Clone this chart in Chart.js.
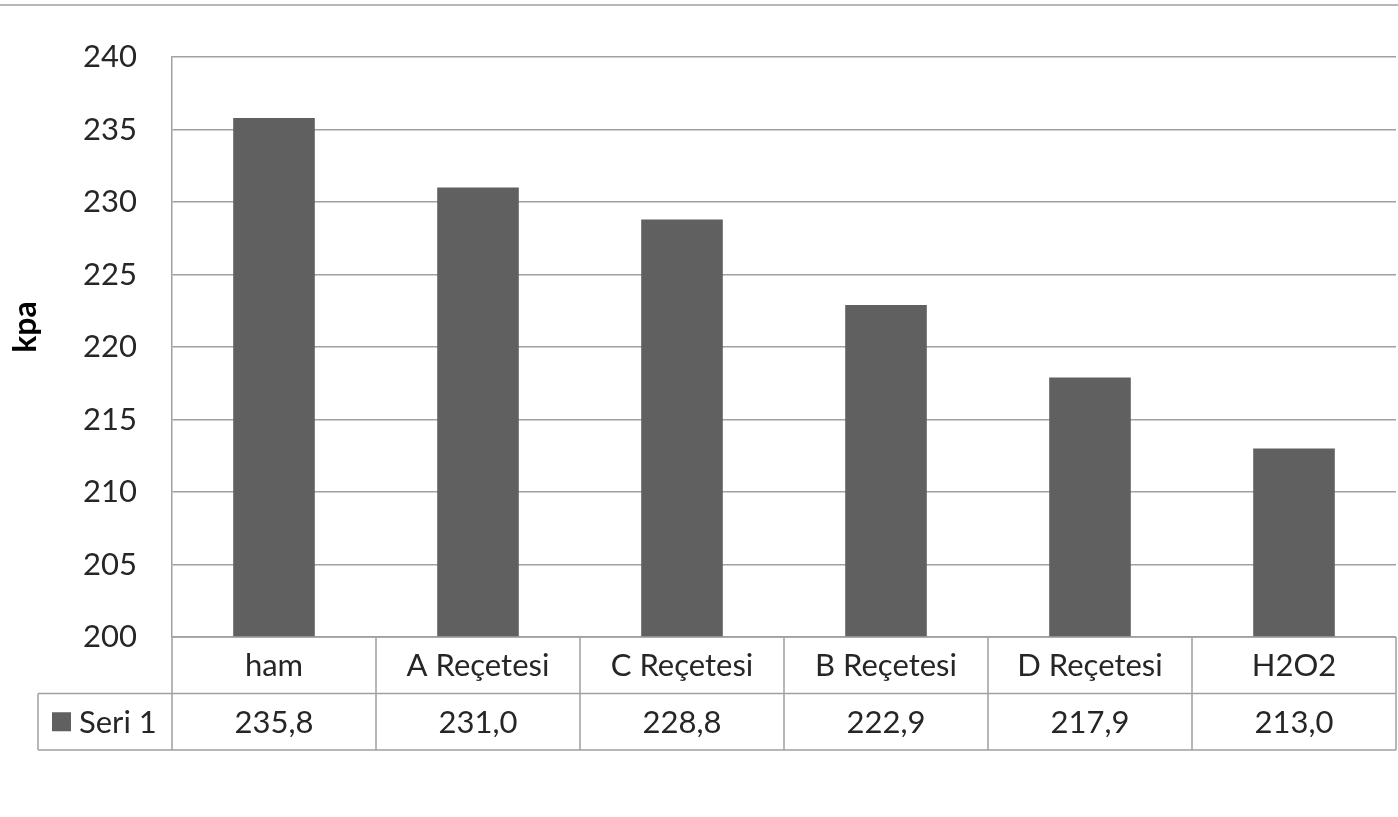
<!DOCTYPE html>
<html>
<head>
<meta charset="utf-8">
<script src="https://cdn.jsdelivr.net/npm/chart.js@4/dist/chart.umd.min.js"></script>
<style>
  html, body { margin: 0; padding: 0; background: #ffffff; }
  #wrap { width: 1398px; height: 817px; }
</style>
</head>
<body>
<div id="wrap"><canvas id="chart" width="1398" height="817"></canvas></div>
<script>
// Chart data
const categories = ['ham', 'A Reçetesi', 'C Reçetesi', 'B Reçetesi', 'D Reçetesi', 'H2O2'];
const seriesName = 'Seri 1';
const seriesValues = [235.8, 231.0, 228.8, 222.9, 217.9, 213.0];
const yTicks = [200, 205, 210, 215, 220, 225, 230, 235, 240];
const yTitle = 'kpa';

const FONT = 'Lato, "Open Sans", sans-serif';
const TEXT = '#262626';
const LINE = '#a0a0a0';
const BAR = '#606060';

const fmt = v => v.toFixed(1).replace('.', ',');

// Draws the frame line, the rotated axis title and the data table under the plot
const dataTable = {
  id: 'dataTable',
  afterDraw(chart) {
    const ctx = chart.ctx;
    const xs = chart.scales.x;
    const area = chart.chartArea;
    const rowH = 56.5;
    const top = area.bottom;
    const mid = top + rowH;
    const bot = top + rowH * 2;
    const legendLeft = 38;
    const n = categories.length;
    const half = (xs.getPixelForValue(1) - xs.getPixelForValue(0)) / 2;
    const bounds = [];
    for (let i = 0; i < n; i++) bounds.push(xs.getPixelForValue(i) - half);
    bounds.push(xs.getPixelForValue(n - 1) + half);

    ctx.save();
    ctx.strokeStyle = LINE;
    ctx.lineWidth = 1.5;

    // top frame line
    ctx.beginPath();
    ctx.moveTo(0, 5); ctx.lineTo(chart.width, 5);
    ctx.stroke();

    ctx.beginPath();
    // horizontal lines
    ctx.moveTo(area.left, top); ctx.lineTo(bounds[n], top);
    ctx.moveTo(legendLeft, mid); ctx.lineTo(bounds[n], mid);
    ctx.moveTo(legendLeft, bot); ctx.lineTo(bounds[n], bot);
    // vertical lines
    ctx.moveTo(legendLeft, mid); ctx.lineTo(legendLeft, bot);
    bounds.forEach(x => { ctx.moveTo(x, top); ctx.lineTo(x, bot); });
    ctx.stroke();

    ctx.fillStyle = TEXT;
    ctx.font = '31px ' + FONT;
    ctx.textAlign = 'center';
    ctx.textBaseline = 'middle';
    categories.forEach((c, i) => {
      ctx.fillText(c, xs.getPixelForValue(i), top + rowH / 2 + 1);
      ctx.fillText(fmt(seriesValues[i]), xs.getPixelForValue(i), mid + rowH / 2 + 1);
    });

    // legend key
    ctx.fillStyle = BAR;
    ctx.fillRect(52, mid + rowH / 2 - 9.5, 19, 19);
    ctx.fillStyle = TEXT;
    ctx.textAlign = 'left';
    ctx.fillText(seriesName, 79, mid + rowH / 2 + 1);

    // y axis title
    ctx.save();
    ctx.translate(26, 327);
    ctx.rotate(-Math.PI / 2);
    ctx.fillStyle = '#000000';
    ctx.font = 'bold 32px ' + FONT;
    ctx.textAlign = 'center';
    ctx.textBaseline = 'middle';
    ctx.fillText(yTitle, 0, 0);
    ctx.restore();

    ctx.restore();
  }
};

new Chart(document.getElementById('chart'), {
  type: 'bar',
  data: {
    labels: categories,
    datasets: [{
      label: seriesName,
      data: seriesValues,
      backgroundColor: BAR,
      borderWidth: 0,
      barPercentage: 0.4,
      categoryPercentage: 1.0
    }]
  },
  options: {
    responsive: false,
    animation: false,
    layout: { padding: { top: 57, bottom: 180, left: 0, right: 2 } },
    plugins: { legend: { display: false }, tooltip: { enabled: false } },
    scales: {
      x: { display: false },
      y: {
        min: 200,
        max: 240,
        afterBuildTicks(scale) { scale.ticks = yTicks.map(v => ({ value: v })); },
        afterFit(scale) { scale.width = 172; },
        border: { display: true, color: LINE, width: 1.5 },
        grid: { color: LINE, lineWidth: 1.5, drawTicks: false },
        ticks: {
          padding: 35,
          color: TEXT,
          font: { family: FONT, size: 31 }
        },
        title: { display: false }
      }
    }
  },
  plugins: [dataTable]
});
</script>
</body>
</html>
